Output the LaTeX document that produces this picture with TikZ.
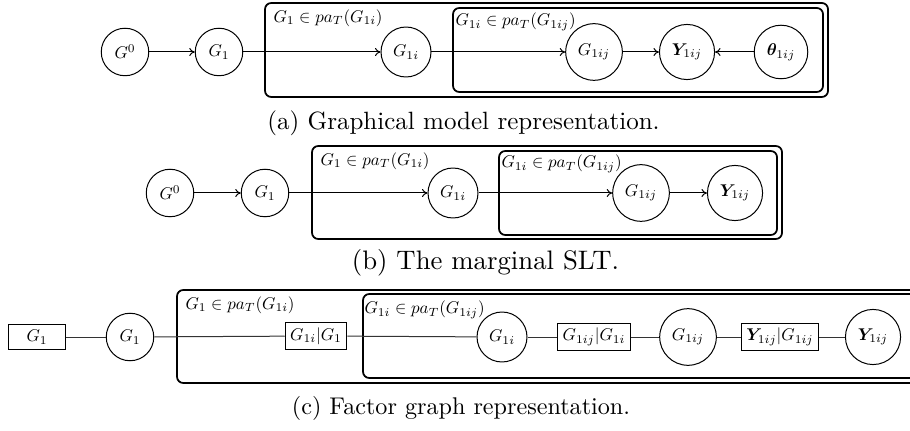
\documentclass[tikz,border=0pt]{standalone}
\usepackage{amsmath,bm,graphicx}
\usetikzlibrary{arrows.meta}
\newcommand{\nt}[1]{\scalebox{0.68}{#1}}
\tikzset{
  var/.style={circle,draw,line width=0.4pt,minimum size=19pt,inner sep=3pt},
  fac/.style={rectangle,draw,line width=0.4pt,minimum width=22.4pt,minimum height=9.2pt,inner sep=2pt},
  plate/.style={draw,line width=0.7pt,rounded corners=2.5pt},
  platelabel/.style={anchor=west,inner sep=0pt},
  arr/.style={-{To[length=2.2pt,width=3.2pt]},line width=0.4pt},
  flink/.style={line width=0.4pt,black!80},
  captext/.style={inner sep=0pt}
}
\begin{document}
\begin{tikzpicture}[x=0.4pt,y=-0.4pt]
\clip (0,0) rectangle (910,431);
\useasboundingbox (0,0) rectangle (910,431);
% ---------- (a) ----------
\draw[plate] (265,3) rectangle (828,97);
\draw[plate] (453,8) rectangle (823,92);
\node[platelabel] (la1) at (273,18) {\nt{$G_1 \in pa_T(G_{1i})$}};
\node[platelabel] (la2) at (455,22) {\nt{$G_{1i} \in pa_T(G_{1ij})$}};
\node[var] (aG0) at (125,52) {\nt{$G^0$}};
\node[var] (aG1) at (219,52) {\nt{$G_1$}};
\node[var] (aG1i) at (406,52) {\nt{$G_{1i}$}};
\node[var] (aG1ij) at (594,52) {\nt{$G_{1ij}$}};
\node[var] (aY) at (687,52) {\nt{$\bm{Y}_{1ij}$}};
\node[var] (aT) at (781,52) {\nt{$\bm{\theta}_{1ij}$}};
\draw[arr] (aG0) -- (aG1);
\draw[arr] (aG1) -- (aG1i);
\draw[arr] (aG1i) -- (aG1ij);
\draw[arr] (aG1ij) -- (aY);
\draw[arr] (aT) -- (aY);
\node[captext,font=\fontsize{10}{12}\selectfont] (capa) at (463.5,123) {(a) Graphical model representation.};
% ---------- (b) ----------
\draw[plate] (312,146) rectangle (782,239);
\draw[plate] (499,151) rectangle (777,235);
\node[platelabel] (lb1) at (320,161) {\nt{$G_1 \in pa_T(G_{1i})$}};
\node[platelabel] (lb2) at (501,164) {\nt{$G_{1i} \in pa_T(G_{1ij})$}};
\node[var] (bG0) at (170,193) {\nt{$G^0$}};
\node[var] (bG1) at (265,193) {\nt{$G_1$}};
\node[var] (bG1i) at (453,193) {\nt{$G_{1i}$}};
\node[var] (bG1ij) at (641,193) {\nt{$G_{1ij}$}};
\node[var] (bY) at (735,193) {\nt{$\bm{Y}_{1ij}$}};
\draw[arr] (bG0) -- (bG1);
\draw[arr] (bG1) -- (bG1i);
\draw[arr] (bG1i) -- (bG1ij);
\draw[arr] (bG1ij) -- (bY);
\node[captext,font=\fontsize{10.7}{13}\selectfont] (capb) at (485.5,263) {(b) The marginal SLT.};
% ---------- (c) ----------
\draw[plate] (177,290) rectangle (960,383);
\draw[plate] (363,294) rectangle (955,378);
\node[platelabel] (lc1) at (185,305) {\nt{$G_1 \in pa_T(G_{1i})$}};
\node[platelabel] (lc2) at (364,310) {\nt{$G_{1i} \in pa_T(G_{1ij})$}};
\node[fac] (cF0) at (37,337) {\nt{$G_1$}};
\node[var] (cG1) at (130,337) {\nt{$G_1$}};
\node[fac] (cF1) at (316,336) {\nt{$G_{1i}|G_1$}};
\node[var] (cG1i) at (502,337) {\nt{$G_{1i}$}};
\node[fac] (cF2) at (594,337) {\nt{$G_{1ij}|G_{1i}$}};
\node[var] (cG1ij) at (688,337) {\nt{$G_{1ij}$}};
\node[fac] (cF3) at (780,337) {\nt{$\bm{Y}_{1ij}|G_{1ij}$}};
\node[var] (cY) at (873,337) {\nt{$\bm{Y}_{1ij}$}};
\draw[flink] (cF0) -- (cG1);
\draw[flink] (cG1) -- (cF1);
\draw[flink] (cF1) -- (cG1i);
\draw[flink] (cG1i) -- (cF2);
\draw[flink] (cF2) -- (cG1ij);
\draw[flink] (cG1ij) -- (cF3);
\draw[flink] (cF3) -- (cY);
\node[captext,font=\fontsize{9.66}{12}\selectfont] (capc) at (461,408) {(c) Factor graph representation.};
\end{tikzpicture}
\end{document}
